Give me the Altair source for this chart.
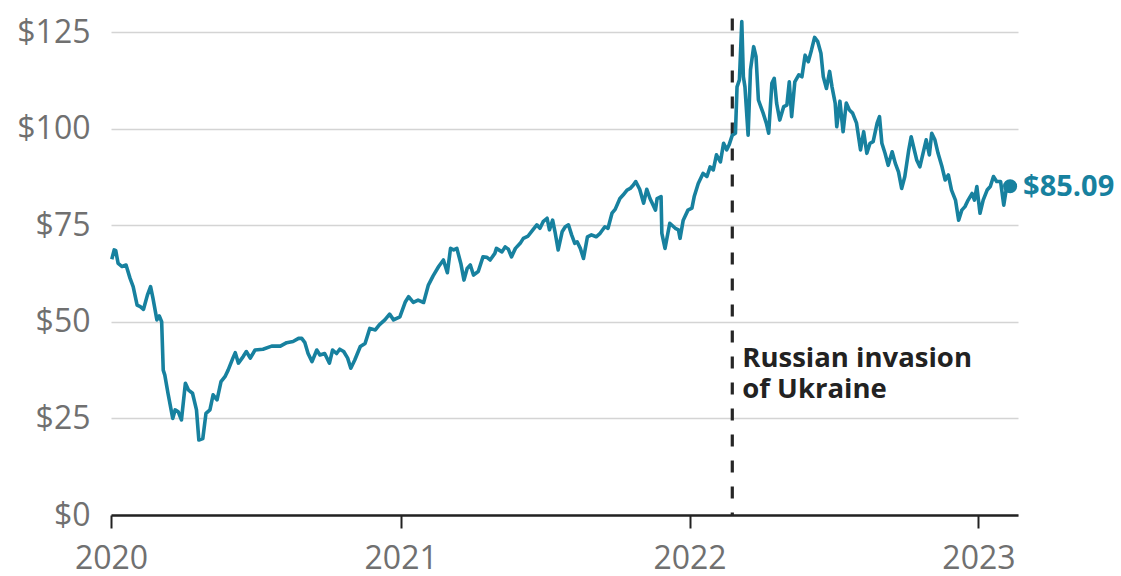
import altair as alt
import pandas as pd

START_DATE = "2020-01-01"

# Days since 1 Jan 2020 and Brent crude price (US$ per barrel)
days_a = [1, 4, 6, 9, 14, 19, 24, 28, 33, 37, 41, 46, 50, 53, 58, 61, 64, 66, 68, 72,
          78, 81, 85, 89, 94, 98, 103, 108, 111, 116, 120, 125, 129, 134, 139, 144, 148, 154, 157, 161,
          167, 171, 176, 182, 192, 203, 214, 222, 230, 237]
price_a = [66.2, 68.6, 68.4, 65.1, 64.3, 64.7, 61.3, 59.1, 54.3, 53.9, 53.2, 56.9, 59.1, 56.1, 50.5, 51.5, 50.0, 37.5, 36.2, 31.5,
           25.0, 27.2, 26.7, 24.6, 34.1, 32.3, 31.5, 27.2, 19.4, 19.8, 26.3, 27.2, 31.1, 29.8, 34.5, 35.8, 37.5, 40.6, 42.0, 39.3,
           41.0, 42.3, 40.6, 42.7, 42.9, 43.7, 43.7, 44.6, 44.9, 45.7]

days_b = [241, 245, 249, 254, 260, 264, 270, 276, 280, 285, 289, 294, 299, 303, 308, 315, 321, 327, 334, 339,
          346, 352, 357, 365, 372, 376, 382, 388, 395, 401, 407, 414, 420, 425, 429, 433, 437, 442, 446, 450,
          454, 458, 464, 470, 475, 479, 485]
price_b = [45.7, 44.6, 41.8, 39.7, 42.7, 41.4, 41.8, 39.3, 42.7, 41.8, 42.9, 42.3, 40.6, 38.0, 40.1, 43.6, 44.4, 48.3, 47.9, 49.2,
           50.5, 52.0, 50.5, 51.3, 55.2, 56.5, 55.0, 55.6, 55.0, 59.5, 61.9, 64.3, 66.0, 62.7, 69.0, 68.6, 69.0, 65.1, 60.8, 63.8,
           64.7, 62.1, 63.0, 66.8, 66.7, 66.0, 67.7]

days_c = [487, 494, 498, 502, 506, 511, 517, 521, 527, 533, 538, 542, 546, 551, 554, 558, 561, 565, 570, 574,
          578, 582, 586, 589, 593, 597, 602, 607, 613, 618, 624, 628, 633, 637, 643, 647, 652, 656, 660, 663,
          668, 673, 677, 681, 688, 690, 695, 696, 700, 706, 713, 717, 719, 723, 729, 734, 737]
price_c = [69.0, 68.1, 69.4, 68.8, 66.8, 69.0, 70.3, 71.6, 72.2, 73.8, 75.1, 74.2, 75.9, 76.8, 73.8, 76.3, 73.3, 68.6, 73.3, 74.6,
           75.1, 72.5, 70.3, 70.7, 69.0, 66.4, 72.0, 72.5, 72.0, 72.9, 74.6, 74.2, 78.1, 79.1, 81.9, 82.8, 84.1, 84.5, 85.4, 86.3,
           84.3, 80.7, 84.3, 81.9, 78.9, 81.9, 82.4, 72.9, 69.0, 75.5, 74.2, 73.8, 71.6, 76.3, 78.9, 79.4, 82.5]

days_d = [742, 748, 753, 757, 761, 765, 770, 774, 778, 781, 785, 789, 791, 794, 797, 799, 801, 805, 808, 812,
          815, 818, 821, 824, 828, 831, 835, 838, 841, 845, 850, 854, 857, 860, 864, 869, 873, 877, 881, 885,
          889, 893, 897, 900, 904, 908, 911, 915, 917, 921, 925, 929, 933, 937, 942, 947, 951, 955, 959, 963,
          968, 971, 974, 978, 982, 987, 991, 995]
price_d = [85.8, 88.4, 87.6, 90.1, 89.3, 93.2, 91.4, 96.2, 94.5, 95.8, 98.3, 98.8, 110.8, 112.6, 127.7, 113.4, 110.8, 98.3, 115.2, 121.2,
           118.6, 107.4, 105.7, 104.0, 101.4, 98.8, 111.7, 113.0, 106.6, 102.2, 105.7, 106.1, 112.1, 103.1, 112.1, 113.9, 113.4, 119.0, 117.3, 120.3,
           123.6, 122.5, 119.5, 113.4, 110.4, 114.8, 110.8, 106.6, 100.5, 107.1, 99.2, 106.6, 104.8, 104.0, 101.4, 94.5, 99.2, 93.6, 96.2, 96.6,
           101.4, 103.1, 96.2, 93.6, 90.5, 94.0, 91.0, 88.8]

days_e = [999, 1003, 1008, 1011, 1014, 1018, 1022, 1026, 1030, 1034, 1037, 1041, 1045, 1050, 1054, 1058, 1062, 1067, 1071, 1075,
          1079, 1083, 1088, 1091, 1094, 1098, 1102, 1107, 1111, 1115, 1119, 1124, 1128, 1131, 1136]
price_e = [84.5, 87.6, 94.5, 97.9, 95.3, 91.9, 90.1, 93.6, 97.1, 93.2, 98.8, 97.1, 93.6, 90.1, 86.7, 88.0, 84.1, 81.5, 76.3, 78.9,
           79.8, 81.5, 83.2, 81.5, 85.0, 78.1, 81.5, 84.1, 85.0, 87.6, 86.3, 86.3, 80.2, 84.1, 85.09]

y_ticks = [0, 25, 50, 75, 100, 125]
x_tick_years = [2020, 2021, 2022, 2023]
invasion_date = "2022-02-24"
invasion_label = "Russian invasion\nof Ukraine"

TEAL = "#17819f"

days = days_a + days_b + days_c + days_d + days_e
prices = price_a + price_b + price_c + price_d + price_e
dates = (pd.Timestamp(START_DATE) + pd.to_timedelta(days, unit="D")).strftime("%Y-%m-%d")
df = pd.DataFrame({"date": list(dates), "price": prices})

last = df.iloc[[-1]].copy()
last["label"] = "$" + last["price"].map(lambda v: f"{v:.2f}")

rule_df = pd.DataFrame({"date": [invasion_date], "top": [128.5], "bottom": [0.0]})
note_df = pd.DataFrame({"date": [invasion_date], "price": [44.0], "label": [invasion_label]})

x_scale = alt.Scale(
    type="utc",
    domain=[alt.DateTime(year=2020, month=1, date=1, utc=True),
            alt.DateTime(year=2023, month=2, date=20, utc=True)],
)
x_axis = alt.Axis(
    title=None,
    values=[alt.DateTime(year=y, month=1, date=1, utc=True) for y in x_tick_years],
    format="%Y",
    grid=False,
    domain=True,
    domainColor="#222222",
    domainWidth=2.5,
    ticks=True,
    tickColor="#222222",
    tickWidth=2,
    tickSize=13,
    labelPadding=15,
    labelFontSize=32,
    labelColor="#707070",
    labelFont="Open Sans",
    labelFlush=False,
    labelOverlap=False,
    labelAlign="center",
)
y_scale = alt.Scale(domain=[0, 125], nice=False, zero=True)
y_axis = alt.Axis(
    title=None,
    values=y_ticks,
    labelExpr="'$' + datum.value",
    domain=False,
    ticks=False,
    tickSize=0,
    grid=True,
    gridColor="#d4d4d4",
    gridWidth=1.5,
    labelPadding=21,
    labelFontSize=32,
    labelColor="#707070",
    labelFont="Open Sans",
    labelBaseline="middle",
)


def xe():
    return alt.X("date:T", scale=x_scale, axis=x_axis)


def ye(field):
    return alt.Y(f"{field}:Q", scale=y_scale, axis=y_axis)


rule = alt.Chart(rule_df).mark_rule(
    color="#262626", strokeWidth=3.2, strokeDash=[12, 14]
).encode(x=xe(), y=ye("top"), y2="bottom:Q")

line = alt.Chart(df).mark_line(
    color=TEAL, strokeWidth=3.6, strokeJoin="round"
).encode(x=xe(), y=ye("price"))

dot = alt.Chart(last).mark_circle(color=TEAL, size=200, opacity=1).encode(x=xe(), y=ye("price"))

end_label = alt.Chart(last).mark_text(
    align="left", baseline="middle", dx=13, dy=1, fontSize=29, fontWeight="bold",
    font="Open Sans", color=TEAL
).encode(x=xe(), y=ye("price"), text="label:N")

note = alt.Chart(note_df).mark_text(
    align="left", baseline="top", dx=10, fontSize=27.5, fontWeight="bold",
    font="Open Sans", color="#222222", lineBreak="\n", lineHeight=31
).encode(x=xe(), y=ye("price"), text="label:N")

chart = alt.layer(rule, line, dot, end_label, note).properties(
    width=907,
    height=483,
    autosize="none",
    padding={"left": 111, "top": 32, "right": 103, "bottom": 61},
    background="white",
).configure_view(stroke=None)

chart.save("out.html", embed_options={"renderer": "svg", "actions": False})
